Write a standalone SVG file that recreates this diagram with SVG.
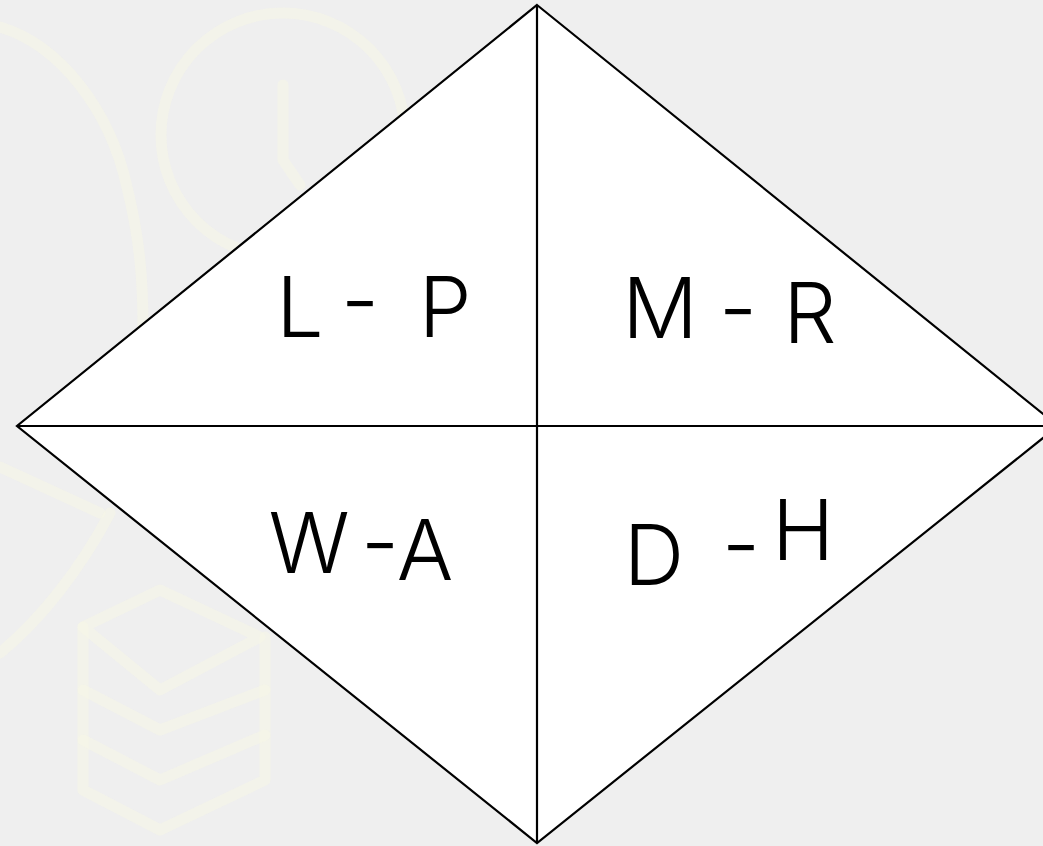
<svg xmlns="http://www.w3.org/2000/svg" width="1043" height="846" viewBox="0 0 1043 846">
  <style>
    .wm { fill: none; stroke: #f5f5e6; stroke-opacity: 0.55; stroke-width: 11; stroke-linecap: round; stroke-linejoin: round; }
    .quad { fill: #ffffff; stroke: none; }
    .edge { fill: none; stroke: #000000; stroke-width: 2.2; stroke-linejoin: miter; }
    .lbl { font-family: "Inter", "Liberation Sans", sans-serif; font-weight: 300; font-size: 84px; fill: #000000; text-anchor: middle; }
  </style>
  <rect x="0" y="0" width="1043" height="846" fill="#efefef"/>
  <g id="watermark">
    <path class="wm" d="M0,27 C60,45 110,110 127,187 C140,240 143,280 143,330"/>
    <path class="wm" d="M0,467 L100,513"/>
    <path class="wm" d="M110,513 C80,570 40,620 0,653"/>
    <circle class="wm" cx="283" cy="135" r="122"/>
    <path class="wm" d="M283,85 L283,160 L300,185"/>
    <path class="wm" d="M83,627 L160,590 L260,637 L160,690 Z"/>
    <path class="wm" d="M83,627 L83,790 L160,830 L265,780 L265,637"/>
    <path class="wm" d="M83,690 L160,730 L265,690"/>
    <path class="wm" d="M83,740 L160,780 L265,735"/>
  </g>
  <g id="quad-lp">
    <polygon class="quad" points="17,426 537,5 537,426"/>
    <text class="lbl"><tspan x="300" y="337">L</tspan><tspan x="360" y="330">-</tspan><tspan x="445" y="337">P</tspan></text>
  </g>
  <g id="quad-mr">
    <polygon class="quad" points="537,5 1058,426 537,426"/>
    <text class="lbl"><tspan x="660" y="338">M</tspan><tspan x="738" y="338">-</tspan><tspan x="810" y="343">R</tspan></text>
  </g>
  <g id="quad-wa">
    <polygon class="quad" points="17,426 537,426 537,843"/>
    <text class="lbl"><tspan x="309" y="573">W</tspan><tspan x="380" y="572">-</tspan><tspan x="425" y="580">A</tspan></text>
  </g>
  <g id="quad-dh">
    <polygon class="quad" points="537,426 1058,426 537,843"/>
    <text class="lbl"><tspan x="654" y="585">D</tspan><tspan x="741" y="574">-</tspan><tspan x="803" y="560">H</tspan></text>
  </g>
  <g id="connectors">
    <polygon class="edge" points="537,5 1058,426 537,843 17,426"/>
    <line class="edge" x1="17" y1="426" x2="1058" y2="426"/>
    <line class="edge" x1="537" y1="5" x2="537" y2="843"/>
  </g>
</svg>
